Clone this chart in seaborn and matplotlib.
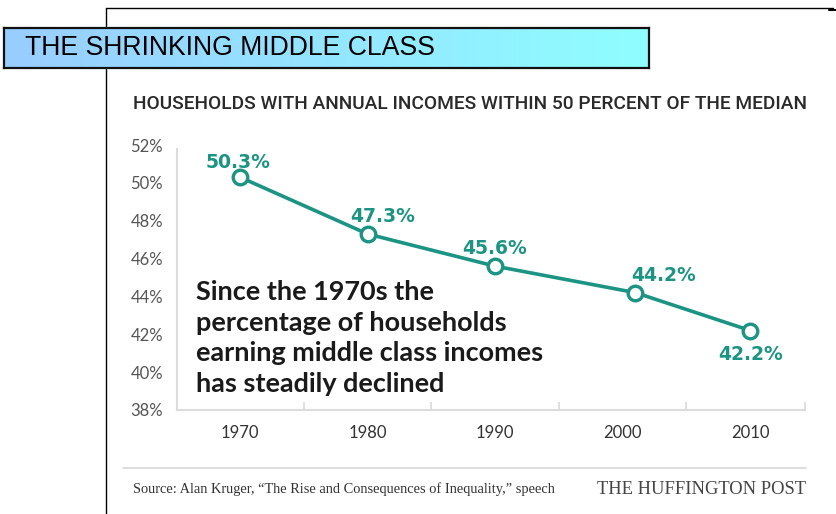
import numpy as np
import matplotlib
matplotlib.use("Agg")
import matplotlib.pyplot as plt
import seaborn as sns
from matplotlib.lines import Line2D
from matplotlib.colors import LinearSegmentedColormap

# ---- data ----
years = [1970, 1980, 1990, 2001, 2010]
share = [50.3, 47.3, 45.6, 44.2, 42.2]
value_labels = ["50.3%", "47.3%", "45.6%", "44.2%", "42.2%"]
x_ticks = [1970, 1980, 1990, 2000, 2010]
x_tick_labels = ["1970", "1980", "1990", "2000", "2010"]
y_ticks = [38, 40, 42, 44, 46, 48, 50, 52]
y_tick_labels = ["38%", "40%", "42%", "44%", "46%", "48%", "50%", "52%"]

title = "THE SHRINKING MIDDLE CLASS"
subtitle = "HOUSEHOLDS WITH ANNUAL INCOMES WITHIN 50 PERCENT OF THE MEDIAN"
note = "Since the 1970s the\npercentage of households\nearning middle class incomes\nhas steadily declined"
source = "Source: Alan Kruger, \u201cThe Rise and Consequences of Inequality,\u201d speech"
brand = "THE HUFFINGTON POST"

# label offsets (px) relative to each point
label_dx = [-2, 15, -1, 28, 0]
label_dy = [15, 17, 18, 17, -24]

TEAL = "#1b9484"
W, H = 837, 514

sns.set_theme(style="white")
plt.rcParams["font.family"] = ["Lato", "DejaVu Sans"]

fig = plt.figure(figsize=(W / 100, H / 100), dpi=100)
fig.patch.set_facecolor("white")

def fx(px):
    return px / W

def fy(py):
    return 1 - py / H

# outer frame lines
fig.add_artist(Line2D([fx(106), fx(833)], [fy(8), fy(8)], color="black", lw=1.0, transform=fig.transFigure, zorder=1))
fig.add_artist(Line2D([fx(106), fx(106)], [fy(8), fy(514)], color="black", lw=1.0, transform=fig.transFigure, zorder=1))
fig.add_artist(Line2D([fx(829), fx(837)], [fy(9.5), fy(9.5)], color="black", lw=1.5, transform=fig.transFigure, zorder=1))

# title box with gradient
tax = fig.add_axes([fx(4), fy(68), fx(649) - fx(4), (68 - 28) / H], zorder=5)
cmap = LinearSegmentedColormap.from_list("tb", ["#99cdff", "#8ffeff"])
tax.imshow(np.linspace(0, 1, 256)[None, :], aspect="auto", cmap=cmap, extent=[0, 1, 0, 1])
tax.set_xticks([]); tax.set_yticks([])
for s in tax.spines.values():
    s.set_visible(True)
    s.set_color("#111111")
    s.set_linewidth(1.6)
ttl = tax.text((25 - 4) / (649 - 4), 0.5, title, fontsize=19, family=["Liberation Sans", "DejaVu Sans"],
               color="black", va="center", ha="left", transform=tax.transAxes)

# main axes
ax = fig.add_axes([fx(177), fy(410), fx(805) - fx(177), (410 - 145) / H])
sns.lineplot(x=years, y=share, ax=ax, color=TEAL, lw=2.6, marker="o", markersize=10.5,
             markerfacecolor="white", markeredgecolor=TEAL, markeredgewidth=2.4, zorder=3)
ax.set_xlim(1965.06, 2014.3)
ax.set_ylim(38, 52)
ax.set_xticks(x_ticks)
ax.set_xticklabels(x_tick_labels)
ax.set_yticks(y_ticks)
ax.set_yticklabels(y_tick_labels)
ax.set_xticks([1975, 1985, 1995, 2005, 2014.3], minor=True)
ax.tick_params(axis="x", which="major", length=0, pad=11, labelsize=12, labelcolor="#333333")
ax.tick_params(axis="x", which="minor", direction="in", length=6, width=1.2, color="#d9d9d9", bottom=True)
ax.tick_params(axis="y", which="major", length=0, pad=10, labelsize=12, labelcolor="#555555")
for side in ["top", "right"]:
    ax.spines[side].set_visible(False)
for side in ["left", "bottom"]:
    ax.spines[side].set_color("#dcdcdc")
    ax.spines[side].set_linewidth(1.5)
ax.spines["left"].set_bounds(38, 51.8)
ax.set_xlabel(""); ax.set_ylabel("")
ax.set_facecolor("none")

for x, y, lab, dx, dy in zip(years, share, value_labels, label_dx, label_dy):
    ax.annotate(lab, (x, y), xytext=(dx * 0.72, dy * 0.72), textcoords="offset points",
                ha="center", va="center", color=TEAL, fontsize=13.5, fontweight="bold",
                family=["DejaVu Sans"], zorder=4)

# subtitle
sub = fig.text(fx(133), fy(104), subtitle, fontsize=11, fontweight="medium",
               family=["Roboto", "Liberation Sans", "DejaVu Sans"],
               color="#2a2a2a", ha="left", va="center")

# note text
noteT = fig.text(fx(196), fy(280), note, fontsize=19, fontweight="bold", color="#1a1a1a",
                 ha="left", va="top", linespacing=1.33)

# separator and footer
fig.add_artist(Line2D([fx(123), fx(806)], [fy(468), fy(468)], color="#dedede", lw=1.4, transform=fig.transFigure))
src = fig.text(fx(133), fy(489), source, fontsize=9, family=["Liberation Serif", "DejaVu Serif"],
               color="#333333", ha="left", va="center")
brd = fig.text(fx(806), fy(489), brand, fontsize=12.5, family=["Liberation Serif", "DejaVu Serif"],
               color="#444444", ha="right", va="center")

# fit text widths to the reference spans
fig.canvas.draw()
r = fig.canvas.get_renderer()
def fit(t, target_px):
    w = t.get_window_extent(r).width
    t.set_fontsize(t.get_fontsize() * target_px / w)
fit(sub, 806 - 133)
fit(src, 557 - 133)
fit(brd, 806 - 597)
fit(ttl, 436 - 25)
# note: widest line "earning middle class incomes" spans ~347 px
probe = fig.text(0, 0, "earning middle class incomes", fontsize=19, fontweight="bold")
wp = probe.get_window_extent(r).width
probe.remove()
noteT.set_fontsize(19 * 347 / wp)

fig.savefig("out.png", dpi=100, facecolor="white")
